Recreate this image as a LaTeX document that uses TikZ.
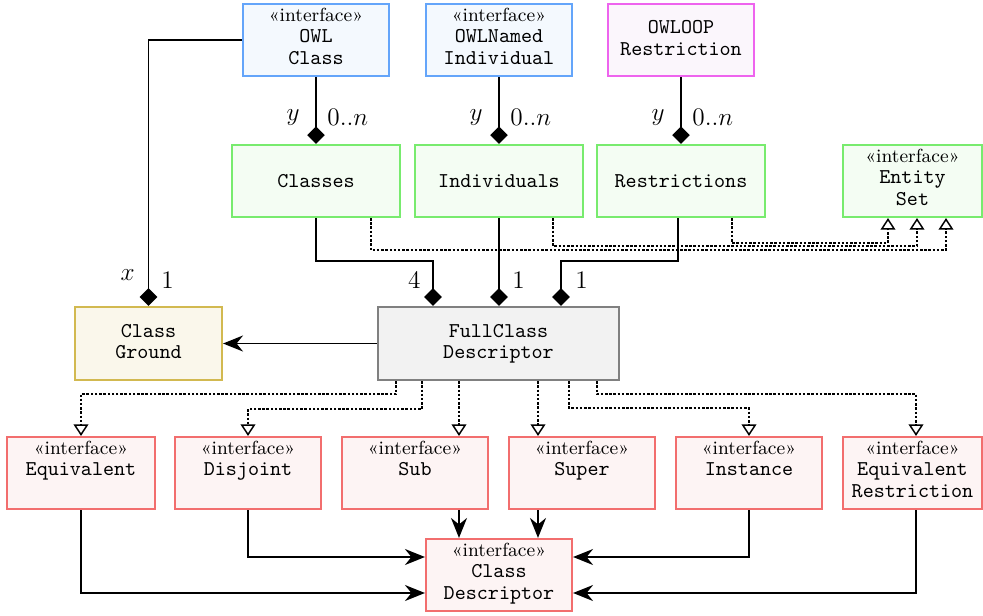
\documentclass[tikz,border=0pt]{standalone}
\usepackage{fontspec}
\usetikzlibrary{arrows.meta,calc}
\definecolor{blueB}{RGB}{100,165,250}
\definecolor{blueF}{RGB}{244,249,254}
\definecolor{magB}{RGB}{238,100,238}
\definecolor{magF}{RGB}{251,246,252}
\definecolor{greenB}{RGB}{120,235,110}
\definecolor{greenF}{RGB}{244,253,243}
\definecolor{goldB}{RGB}{210,185,80}
\definecolor{goldF}{RGB}{250,247,235}
\definecolor{grayB}{RGB}{128,128,128}
\definecolor{grayF}{RGB}{242,242,242}
\definecolor{redB}{RGB}{242,110,110}
\definecolor{redF}{RGB}{253,244,244}
\renewcommand{\arraystretch}{0.85}
\newcommand{\ifacetext}[1]{\begin{tabular}[t]{@{}c@{}}{\rmfamily\small «interface»}\\#1\end{tabular}}
\newcommand{\plaintext}[1]{\begin{tabular}{@{}c@{}}#1\end{tabular}}
\begin{document}
\begin{tikzpicture}[x=0.475pt,y=-0.475pt,
  box/.style={draw, line width=1pt, inner sep=0pt, font=\ttfamily, minimum height=34.2pt},
  iface/.style={text height=8.1pt, text depth=26.1pt},
  bluebox/.style={box, draw=blueB, fill=blueF, minimum width=69.35pt},
  magbox/.style={box, draw=magB, fill=magF, minimum width=69.35pt},
  greenbox/.style={box, draw=greenB, fill=greenF, minimum width=79.8pt},
  goldbox/.style={box, draw=goldB, fill=goldF, minimum width=69.8pt, minimum height=34.7pt},
  graybox/.style={box, draw=grayB, fill=grayF, minimum width=114.5pt, minimum height=34.7pt},
  redbox/.style={box, draw=redB, fill=redF, minimum width=69.35pt},
  comp/.style={line width=0.8pt, -{Diamond[length=8.4pt,width=8.4pt]}},
  gen/.style={line width=0.7pt, dash pattern=on 1.2pt off 0.8pt, -{Triangle[open,fill=white,length=5.5pt,width=7pt]}},
  nav/.style={line width=0.8pt, -{Stealth[length=9.5pt,width=7.6pt]}},
  lbl/.style={font=\large, inner sep=0pt}
]
\useasboundingbox[fill=white] (0,0) rectangle (983,615);

% top row
\node[bluebox, iface] (owlc) at (316,40) {\ifacetext{OWL\\Class}};
\node[bluebox, iface] (owli) at (499,40) {\ifacetext{OWLNamed\\Individual}};
\node[magbox] (owlr) at (681,40) {\plaintext{OWLOOP\\Restriction}};

% second row
\node[greenbox] (classes) at (316,181) {Classes};
\node[greenbox] (indiv) at (499,181) {Individuals};
\node[greenbox] (restr) at (681,181) {Restrictions};
\node[greenbox, iface, minimum width=66pt] (entity) at (912.5,181) {\ifacetext{Entity\\Set}};

% middle row
\node[goldbox] (ground) at (148.5,343.5) {\plaintext{Class\\Ground}};
\node[graybox] (full) at (498.5,343.5) {\plaintext{FullClass\\Descriptor}};

% bottom row
\node[redbox, iface, minimum width=70.3pt] (eq) at (81,473) {\ifacetext{Equivalent\\~}};
\node[redbox, iface] (dis) at (248,473) {\ifacetext{Disjoint\\~}};
\node[redbox, iface] (sub) at (415,473) {\ifacetext{Sub\\~}};
\node[redbox, iface] (sup) at (582,473) {\ifacetext{Super\\~}};
\node[redbox, iface] (inst) at (749,473) {\ifacetext{Instance\\~}};
\node[redbox, iface, minimum width=66pt] (eqr) at (912.5,473) {\ifacetext{Equivalent\\Restriction}};
\node[redbox, iface] (cd) at (499,575) {\ifacetext{Class\\Descriptor}};

% compositions
\draw[comp] (owlc.west) -| (ground.north);
\draw[comp] (owlc.south) -- (classes.north);
\draw[comp] (owli.south) -- (indiv.north);
\draw[comp] (owlr.south) -- (restr.north);
\draw[comp] (classes.south) |- ($(full.north)+(-65.5,-45)$) -- ($(full.north)+(-65.5,0)$);
\draw[comp] (indiv.south) -- (indiv.south |- full.north);
\draw[comp] ($(restr.south)+(-3,0)$) |- ($(full.north)+(62.5,-45)$) -- ($(full.north)+(62.5,0)$);

% labels
\node[lbl, anchor=base east] (ly1) at ($(classes.north)+(-16,-23)$) {$y$};
\node[lbl, anchor=base west] (ln1) at ($(classes.north)+(11,-18)$) {$0..n$};
\node[lbl, anchor=base east] (ly2) at ($(indiv.north)+(-16,-23)$) {$y$};
\node[lbl, anchor=base west] (ln2) at ($(indiv.north)+(11,-18)$) {$0..n$};
\node[lbl, anchor=base east] (ly3) at ($(restr.north)+(-16,-23)$) {$y$};
\node[lbl, anchor=base west] (ln3) at ($(restr.north)+(11,-18)$) {$0..n$};
\node[lbl, anchor=base east] (lx) at ($(ground.north)+(-13.5,-25)$) {$x$};
\node[lbl, anchor=base west] (lg1) at ($(ground.north)+(12.5,-17)$) {$1$};
\node[lbl, anchor=base east] (l4) at ($(full.north)+(-77.5,-17)$) {$4$};
\node[lbl, anchor=base west] (lf1) at ($(full.north)+(13.5,-17)$) {$1$};
\node[lbl, anchor=base west] (lf2) at ($(full.north)+(76.5,-17)$) {$1$};

% generalizations to Entity Set
\draw[gen] ($(classes.south)+(55,0)$) |- ($(entity.south)+(33.5,32)$) -- ($(entity.south)+(33.5,0)$);
\draw[gen] ($(indiv.south)+(54,0)$) |- ($(entity.south)+(4.5,28)$) -- ($(entity.south)+(4.5,0)$);
\draw[gen] ($(restr.south)+(51,0)$) |- ($(entity.south)+(-24.5,25)$) -- ($(entity.south)+(-24.5,0)$);

% FullClass -> Class Ground
\draw[nav] (full.west) -- (ground.east);

% generalizations from FullClass Descriptor
\draw[gen] ($(full.south)+(-102.5,0)$) -- ++(0,13) -| (eq.north);
\draw[gen] ($(full.south)+(-76.5,0)$) -- ++(0,28) -| (dis.north);
\draw[gen] ($(full.south)+(-39.5,0)$) -- ($(sub.north)+(44,0)$);
\draw[gen] ($(full.south)+(39.5,0)$) -- ($(sup.north)+(-44,0)$);
\draw[gen] ($(full.south)+(70.5,0)$) -- ++(0,27) -| (inst.north);
\draw[gen] ($(full.south)+(98.5,0)$) -- ++(0,13) -| ($(eqr.north)+(3.5,0)$);

% to Class Descriptor
\draw[nav] ($(sub.south)+(44,0)$) -- ($(cd.north)+(-40,0)$);
\draw[nav] ($(sup.south)+(-44,0)$) -- ($(cd.north)+(39,0)$);
\draw[nav] (dis.south) |- ($(cd.west)+(0,-18)$);
\draw[nav] (eq.south) |- ($(cd.west)+(0,18)$);
\draw[nav] (inst.south) |- ($(cd.east)+(0,-18)$);
\draw[nav] ($(eqr.south)+(3.5,0)$) |- ($(cd.east)+(0,18)$);
\end{tikzpicture}
\end{document}
